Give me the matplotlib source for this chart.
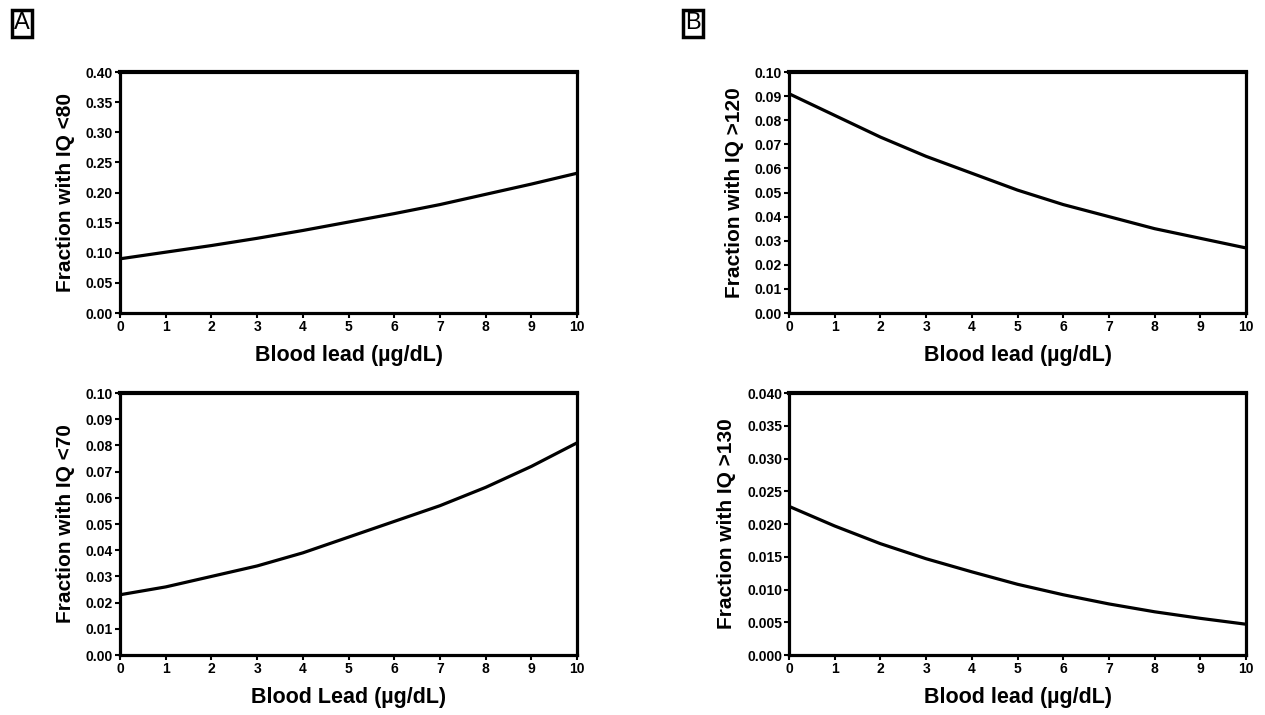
"""Blood lead vs fraction of children in IQ bands (four panels)."""

import matplotlib

matplotlib.use("Agg")
import matplotlib.pyplot as plt
from matplotlib.ticker import FormatStrFormatter, MultipleLocator

plt.rcParams["font.family"] = ["Liberation Sans", "DejaVu Sans"]

blood_lead = [0, 1, 2, 3, 4, 5, 6, 7, 8, 9, 10]

frac_iq_lt80 = [0.090, 0.101, 0.112, 0.124, 0.137, 0.151, 0.165, 0.180, 0.197, 0.214, 0.232]
frac_iq_lt70 = [0.023, 0.026, 0.030, 0.034, 0.039, 0.045, 0.051, 0.057, 0.064, 0.072, 0.081]
frac_iq_gt120 = [0.091, 0.082, 0.073, 0.065, 0.058, 0.051, 0.045, 0.040, 0.035, 0.031, 0.027]
frac_iq_gt130 = [0.0227, 0.0197, 0.0170, 0.0147, 0.0127, 0.0108, 0.0092, 0.0078, 0.0066, 0.0056, 0.0047]

panels = [
    # (values, ylabel, xlabel, ymax, ystep, fmt, rect)
    (frac_iq_lt80, "Fraction with IQ <80", "Blood lead (µg/dL)", 0.40, 0.05, "%.2f",
     [0.0949, 0.5622, 0.3613, 0.3371]),
    (frac_iq_lt70, "Fraction with IQ <70", "Blood Lead (µg/dL)", 0.10, 0.01, "%.2f",
     [0.0949, 0.0839, 0.3613, 0.3664]),
    (frac_iq_gt120, "Fraction with IQ >120", "Blood lead (µg/dL)", 0.10, 0.01, "%.2f",
     [0.6237, 0.5622, 0.3613, 0.3371]),
    (frac_iq_gt130, "Fraction with IQ >130", "Blood lead (µg/dL)", 0.040, 0.005, "%.3f",
     [0.6237, 0.0839, 0.3613, 0.3664]),
]

fig = plt.figure(figsize=(12.65, 7.15), dpi=100)

for values, ylabel, xlabel, ymax, ystep, fmt, rect in panels:
    ax = fig.add_axes(rect)
    ax.plot(blood_lead, values, color="black", linewidth=2.3, solid_capstyle="butt")
    ax.set_xlim(0, 10)
    ax.set_ylim(0, ymax)
    ax.xaxis.set_major_locator(MultipleLocator(1))
    ax.yaxis.set_major_locator(MultipleLocator(ystep))
    ax.yaxis.set_major_formatter(FormatStrFormatter(fmt))
    ax.tick_params(direction="out", length=3.5, width=1.5, labelsize=10)
    ax.tick_params(axis="x", pad=1.5)
    ax.tick_params(axis="y", pad=1.5)
    for lbl in ax.get_xticklabels() + ax.get_yticklabels():
        lbl.set_fontweight("bold")
    for side, spine in ax.spines.items():
        spine.set_linewidth(3.0 if side == "top" else 2.3)
    ax.set_xlabel(xlabel, fontsize=15.5, fontweight="bold", labelpad=8)
    ax.set_ylabel(ylabel, fontsize=15, fontweight="bold", labelpad=8)

box = dict(boxstyle="square,pad=0.1", facecolor="white", edgecolor="black", linewidth=2.5)
fig.text(0.0110, 0.983, "A", fontsize=17, ha="left", va="top", bbox=box)
fig.text(0.5415, 0.983, "B", fontsize=17, ha="left", va="top", bbox=box)

fig.savefig("out.png", dpi=100)
